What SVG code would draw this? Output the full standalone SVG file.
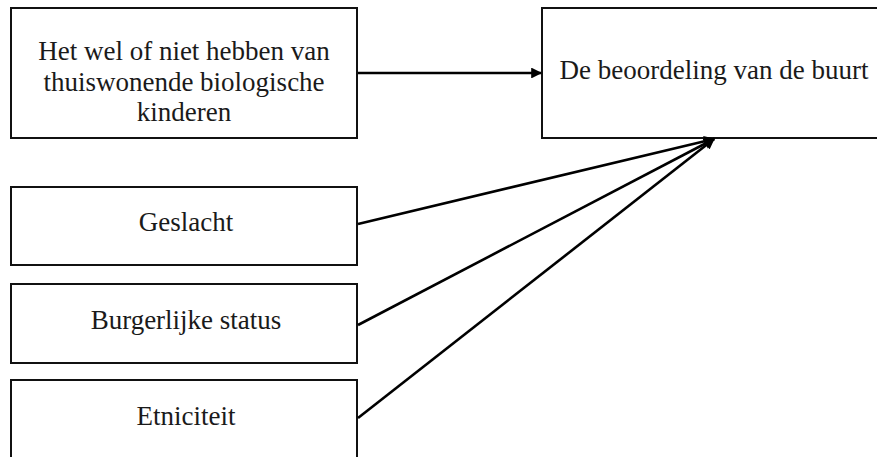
<svg xmlns="http://www.w3.org/2000/svg" width="877" height="457" viewBox="0 0 877 457">
<style>
.box{fill:#fff;stroke:#111;stroke-width:2}
.t{font-family:'Liberation Serif','DejaVu Serif',serif;font-size:27px;fill:#1a1a1a;text-anchor:middle}
.c{stroke:#000;stroke-width:2.6;fill:none}
</style>
<defs>
<marker id="ah" viewBox="0 0 10 10" refX="9" refY="5" markerWidth="4.6" markerHeight="4.2" markerUnits="strokeWidth" orient="auto">
<path d="M0,0 L10,5 L0,10 z" fill="#000"/>
</marker>
</defs>
<rect width="877" height="457" fill="#fff"/>
<g id="n1">
<rect class="box" x="11" y="8" width="346" height="130"/>
<text class="t" x="184" y="60" font-family="Liberation Serif, serif">Het wel of niet hebben van</text>
<text class="t" x="184" y="91" font-family="Liberation Serif, serif">thuiswonende biologische</text>
<text class="t" x="184" y="121" font-family="Liberation Serif, serif">kinderen</text>
</g>
<g id="n2">
<rect class="box" x="542" y="8" width="345" height="130"/>
<text class="t" x="714" y="79" font-family="Liberation Serif, serif">De beoordeling van de buurt</text>
</g>
<g id="n3">
<rect class="box" x="11" y="187" width="346" height="78"/>
<text class="t" x="186" y="231" font-family="Liberation Serif, serif">Geslacht</text>
</g>
<g id="n4">
<rect class="box" x="11" y="284" width="346" height="79"/>
<text class="t" x="186" y="329" font-family="Liberation Serif, serif">Burgerlijke status</text>
</g>
<g id="n5">
<rect class="box" x="11" y="380" width="346" height="90"/>
<text class="t" x="186" y="425" font-family="Liberation Serif, serif">Etniciteit</text>
</g>
<g id="connectors">
<line class="c" x1="358" y1="73" x2="541" y2="73" marker-end="url(#ah)"/>
<line class="c" x1="358" y1="224" x2="714" y2="139" marker-end="url(#ah)"/>
<line class="c" x1="358" y1="325" x2="714" y2="139" marker-end="url(#ah)"/>
<line class="c" x1="358" y1="418" x2="714" y2="139" marker-end="url(#ah)"/>
</g>
</svg>
